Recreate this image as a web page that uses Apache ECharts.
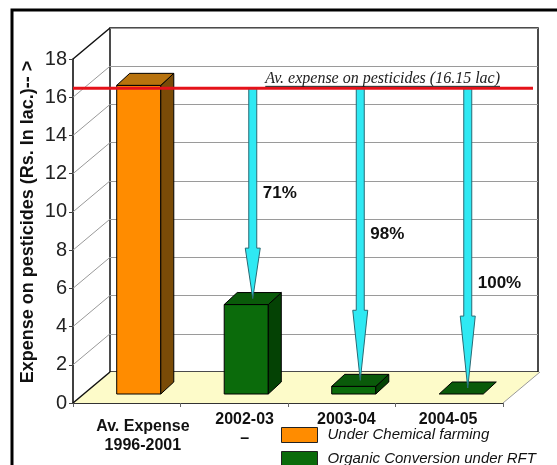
<!DOCTYPE html>
<html>
<head>
<meta charset="utf-8">
<script src="https://cdn.jsdelivr.net/npm/echarts@6/dist/echarts.min.js"></script>
<style>
  html, body { margin: 0; padding: 0; background: #fff; }
  #main { width: 557px; height: 465px; }
</style>
</head>
<body>
<div id="main"></div>
<script>
// data
var categories = ['Av. Expense\n1996-2001', '2002-03\n–', '2003-04', '2004-05'];
var chemical = [16.15, null, null, null];      // Under Chemical farming
var organic = [null, 4.68, 0.4, 0];             // Organic Conversion under RFT
var reduction = [null, 71, 98, 100];            // % drop shown on arrows
var avgExpense = 16.15;
var avgLabel = 'Av. expense on pesticides (16.15 lac)';
var yTicks = [0, 2, 4, 6, 8, 10, 12, 14, 16, 18];

// 3d look (pixels)
var DEPTH = [37, -31];       // front plane -> back wall
var BAR_OFF = [12, -9];      // front plane -> bar front face
var BAR_DEPTH = [13, -12];   // bar thickness
var BAR_RATIO = 0.41;
var REF_OFF = [7, -6];
var LABEL_POS = [0.5, 0.5, 0.65];

(function(){

	var chart = echarts.init(document.getElementById('main'));

	function barItem(colors){
		return function(params, api){
			var cat = api.value(0), v = api.value(1);
			var base = api.coord([cat, 0]);
			var top = api.coord([cat, v]);
			var bw = api.size([1, 0])[0] * BAR_RATIO;
			var x0 = base[0] + BAR_OFF[0] - bw / 2, x1 = x0 + bw;
			var yb = base[1] + BAR_OFF[1], yt = top[1] + BAR_OFF[1];
			var dx = BAR_DEPTH[0], dy = BAR_DEPTH[1];
			var st = function(c){ return { fill: c, stroke: '#000', lineWidth: 1 }; };
			var kids = [];
			if (yb - yt > 0.5) {
				kids.push({ type: 'polygon', shape: { points: [[x0, yt], [x1, yt], [x1, yb], [x0, yb]] }, style: st(colors[0]) });
				kids.push({ type: 'polygon', shape: { points: [[x1, yt], [x1 + dx, yt + dy], [x1 + dx, yb + dy], [x1, yb]] }, style: st(colors[2]) });
			}
			kids.push({ type: 'polygon', shape: { points: [[x0, yt], [x1, yt], [x1 + dx, yt + dy], [x0 + dx, yt + dy]] }, style: st(colors[1]) });
			return { type: 'group', children: kids };
		};
	}

	function pairs(arr){
		return arr.map(function(v, i){ return v == null ? null : [i, v]; })
			.filter(function(d){ return d; });
	}

	var arrowData = organic.map(function(v, i){ return v == null ? null : [i, v, reduction[i]]; })
		.filter(function(d){ return d; });

	var ctx = document.createElement('canvas').getContext('2d');
	ctx.font = 'italic 16px "Liberation Serif"';
	var avgLabelW = ctx.measureText(avgLabel).width;

	var option = {
		animation: false,
		textStyle: { fontFamily: '"Liberation Sans", Arial, sans-serif' },
		graphic: [{
			type: 'rect', z: 100, silent: true,
			shape: { x: 12, y: 10, width: 600, height: 500 },
			style: { fill: null, stroke: '#000', lineWidth: 3 }
		}],
		grid: [
			{ left: 73, top: 59, width: 430, height: 344 },
			{ left: 110, top: 28, width: 428, height: 344, show: true, backgroundColor: '#fff', borderColor: '#111', borderWidth: 1.5 },
			{ left: 92, top: 59, width: 407, height: 344 }
		],
		legend: {
			data: ['Under Chemical farming', 'Organic Conversion under RFT'],
			orient: 'vertical', left: 281, top: 427, height: 60, padding: 0,
			itemWidth: 36, itemHeight: 15, itemGap: 8, icon: 'rect',
			itemStyle: { borderColor: '#222', borderWidth: 1 },
			textStyle: { fontStyle: 'italic', fontSize: 15, color: '#111', padding: [0, 0, 0, 5] }
		},
		xAxis: [
			{
				gridIndex: 0, type: 'category', data: categories,
				axisLine: { lineStyle: { color: '#333', width: 1 } },
				axisTick: { show: true, length: 4, lineStyle: { color: '#666' } },
				axisLabel: { show: false }, splitLine: { show: false }
			},
			{ gridIndex: 1, type: 'category', data: categories, show: false },
			{
				gridIndex: 2, type: 'category', data: categories,
				axisLine: { show: false }, axisTick: { show: false },
				axisLabel: {
					interval: 0, margin: 7, fontSize: 16, fontWeight: 'bold', color: '#111', lineHeight: 19,
					formatter: function(v, i){ return i === 0 ? '{s| }\n' + v : v; },
					rich: { s: { fontSize: 4, lineHeight: 7 } }
				}
			}
		],
		yAxis: [
			{
				gridIndex: 0, type: 'value', min: 0, max: 18, interval: 2,
				name: 'Expense on pesticides (Rs. In lac.)-- >',
				nameLocation: 'middle', nameGap: 36, nameMoveOverlap: false,
				nameTextStyle: { fontSize: 18, fontWeight: 'bold', color: '#111', padding: [0, 0, 0, 18] },
				axisLine: { show: true, lineStyle: { color: '#000', width: 1.5 } },
				axisTick: { show: true, length: 4, lineStyle: { color: '#444' } },
				axisLabel: { fontSize: 20, color: '#222', margin: 6 },
				splitLine: { show: false }
			},
			{
				gridIndex: 1, type: 'value', min: 0, max: 18, interval: 2,
				axisLine: { show: false }, axisTick: { show: false }, axisLabel: { show: false },
				splitLine: { show: true, lineStyle: { color: '#9a9a9a', width: 1 } }
			},
			{ gridIndex: 2, type: 'value', min: 0, max: 18, show: false }
		],
		series: [
			{
				// floor
				type: 'custom', xAxisIndex: 0, yAxisIndex: 0, silent: true, z: 1,
				data: [[0, 0]],
				renderItem: function(params, api){
					var c = params.coordSys;
					var yb = c.y + c.height, xr = c.x + c.width;
					return {
						type: 'group', children: [
							{ type: 'polygon', shape: { points: [[c.x, yb], [xr, yb], [xr + DEPTH[0], yb + DEPTH[1]], [c.x + DEPTH[0], yb + DEPTH[1]]] },
							  style: { fill: '#FDFBC9', stroke: null } },
							{ type: 'line', shape: { x1: xr, y1: yb, x2: xr + DEPTH[0], y2: yb + DEPTH[1] }, style: { stroke: '#999', lineWidth: 1 } }
						]
					};
				}
			},
			{
				// side wall lines
				type: 'custom', xAxisIndex: 0, yAxisIndex: 0, silent: true, z: 2,
				data: yTicks.map(function(t){ return [0, t]; }),
				renderItem: function(params, api){
					var c = params.coordSys;
					var t = api.value(1);
					var y = api.coord([0, t])[1];
					var edge = (t === yTicks[0] || t === yTicks[yTicks.length - 1]);
					return {
						type: 'line',
						shape: { x1: c.x, y1: y, x2: c.x + DEPTH[0], y2: y + DEPTH[1] },
						style: { stroke: edge ? '#111' : '#999', lineWidth: edge ? 1.5 : 1 }
					};
				}
			},
			{
				name: 'Under Chemical farming', type: 'custom', xAxisIndex: 0, yAxisIndex: 0, z: 3,
				itemStyle: { color: '#FF8C00', borderColor: '#222', borderWidth: 1 },
				data: pairs(chemical),
				renderItem: barItem(['#FF8C00', '#B8730E', '#7A4B07'])
			},
			{
				name: 'Organic Conversion under RFT', type: 'custom', xAxisIndex: 0, yAxisIndex: 0, z: 3,
				itemStyle: { color: '#0B6B0B', borderColor: '#222', borderWidth: 1 },
				data: pairs(organic),
				renderItem: barItem(['#0B6B0B', '#0A5A0A', '#044204'])
			},
			{
				// arrows from the average line down to each bar
				type: 'custom', xAxisIndex: 0, yAxisIndex: 0, silent: true, z: 4,
				data: arrowData,
				renderItem: function(params, api){
					var cat = api.value(0), v = api.value(1), pct = api.value(2);
					var y0 = api.coord([cat, avgExpense])[1] + REF_OFF[1];
					var p = api.coord([cat, v]);
					var x = p[0] + BAR_OFF[0] + BAR_DEPTH[0] / 2;
					var tip = p[1] + BAR_OFF[1] + BAR_DEPTH[1] / 2;
					var yh = tip - (tip - y0) * 0.24;
					var sw = 4, hw = 7.5;
					return {
						type: 'group', children: [
							{ type: 'polygon', shape: { points: [[x - sw, y0], [x + sw, y0], [x + sw, yh], [x + hw, yh], [x, tip], [x - hw, yh], [x - sw, yh]] },
							  style: { fill: '#2FE9F3', stroke: '#2A6A74', lineWidth: 1 } },
							{ type: 'text', x: x + 10, y: y0 + (tip - y0) * LABEL_POS[params.dataIndex],
							  style: { text: pct + '%', fontSize: 17, fontWeight: 'bold', fill: '#111',
							           fontFamily: '"Liberation Sans", Arial', align: 'left', verticalAlign: 'middle' } }
						]
					};
				}
			},
			{
				// average line and its label
				type: 'custom', xAxisIndex: 0, yAxisIndex: 0, silent: true, z: 5,
				data: [[0, avgExpense]],
				renderItem: function(params, api){
					var c = params.coordSys;
					var y = api.coord([0, api.value(1)])[1] + REF_OFF[1];
					var xr = c.x + c.width - 3;
					return {
						type: 'group', children: [
							{ type: 'line', shape: { x1: c.x, y1: y, x2: c.x + c.width + 30, y2: y }, style: { stroke: '#E5121A', lineWidth: 3 } },
							{ type: 'text', x: xr, y: y - 2,
							  style: { text: avgLabel, fontSize: 16, fontStyle: 'italic', fill: '#222',
							           fontFamily: '"Liberation Serif", "Times New Roman", serif', align: 'right', verticalAlign: 'bottom' } },
							{ type: 'line', shape: { x1: xr - avgLabelW, y1: y - 2, x2: xr, y2: y - 2 }, style: { stroke: '#222', lineWidth: 1 } }
						]
					};
				}
			}
		]
	};

	chart.setOption(option);

})();
</script>
</body>
</html>
